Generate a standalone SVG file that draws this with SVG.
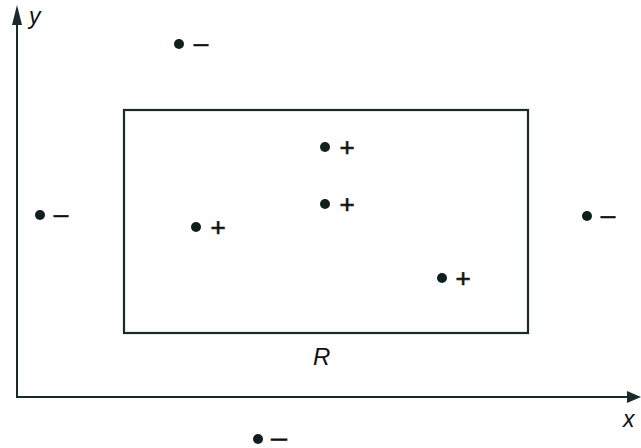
<svg xmlns="http://www.w3.org/2000/svg" width="641" height="448" viewBox="0 0 641 448">
<style>
.ax{stroke:#1a2a2a;stroke-width:2;fill:none}
.dot{fill:#0f1f1f}
.sg{font-family:"Liberation Sans",Arial,sans-serif;font-size:26px;fill:#111;stroke:#111;stroke-width:0.6;text-anchor:middle}
.lb{font-family:"Liberation Sans",Arial,sans-serif;font-style:italic;fill:#111}
</style>
<rect width="641" height="448" fill="#fff"/>
<g id="axes">
<line class="ax" x1="17" y1="398" x2="17" y2="20"/>
<polygon points="17,5 12,25 22,25" fill="#1a2a2a"/>
<line class="ax" x1="16" y1="397" x2="628" y2="397"/>
<polygon points="641,397 627,391 627,403" fill="#1a2a2a"/>
<text class="lb" x="29" y="24" font-size="23">y</text>
<text class="lb" x="623" y="427" font-size="23">x</text>
</g>
<g id="region-R">
<rect x="124" y="110" width="404" height="223" fill="none" stroke="#1a2a2a" stroke-width="2.2"/>
<text class="lb" x="313" y="365" font-size="24">R</text>
</g>
<g id="points">
<g id="p1"><circle class="dot" cx="179" cy="44" r="5"/><text class="sg" x="201" y="51.5">–</text></g>
<g id="p2"><circle class="dot" cx="325" cy="147" r="5"/><text class="sg" x="347" y="156">+</text></g>
<g id="p3"><circle class="dot" cx="325" cy="204" r="5"/><text class="sg" x="347" y="213">+</text></g>
<g id="p4"><circle class="dot" cx="196" cy="227" r="5"/><text class="sg" x="218" y="236">+</text></g>
<g id="p5"><circle class="dot" cx="40" cy="215" r="5"/><text class="sg" x="61" y="222.5">–</text></g>
<g id="p6"><circle class="dot" cx="587" cy="216" r="5"/><text class="sg" x="608" y="223.5">–</text></g>
<g id="p7"><circle class="dot" cx="442" cy="278" r="5"/><text class="sg" x="463" y="287">+</text></g>
<g id="p8"><circle class="dot" cx="258" cy="439" r="5"/><text class="sg" x="279" y="444" style="font-size:18px;stroke-width:1.1" textLength="15" lengthAdjust="spacingAndGlyphs">–</text></g>
</g>
</svg>
